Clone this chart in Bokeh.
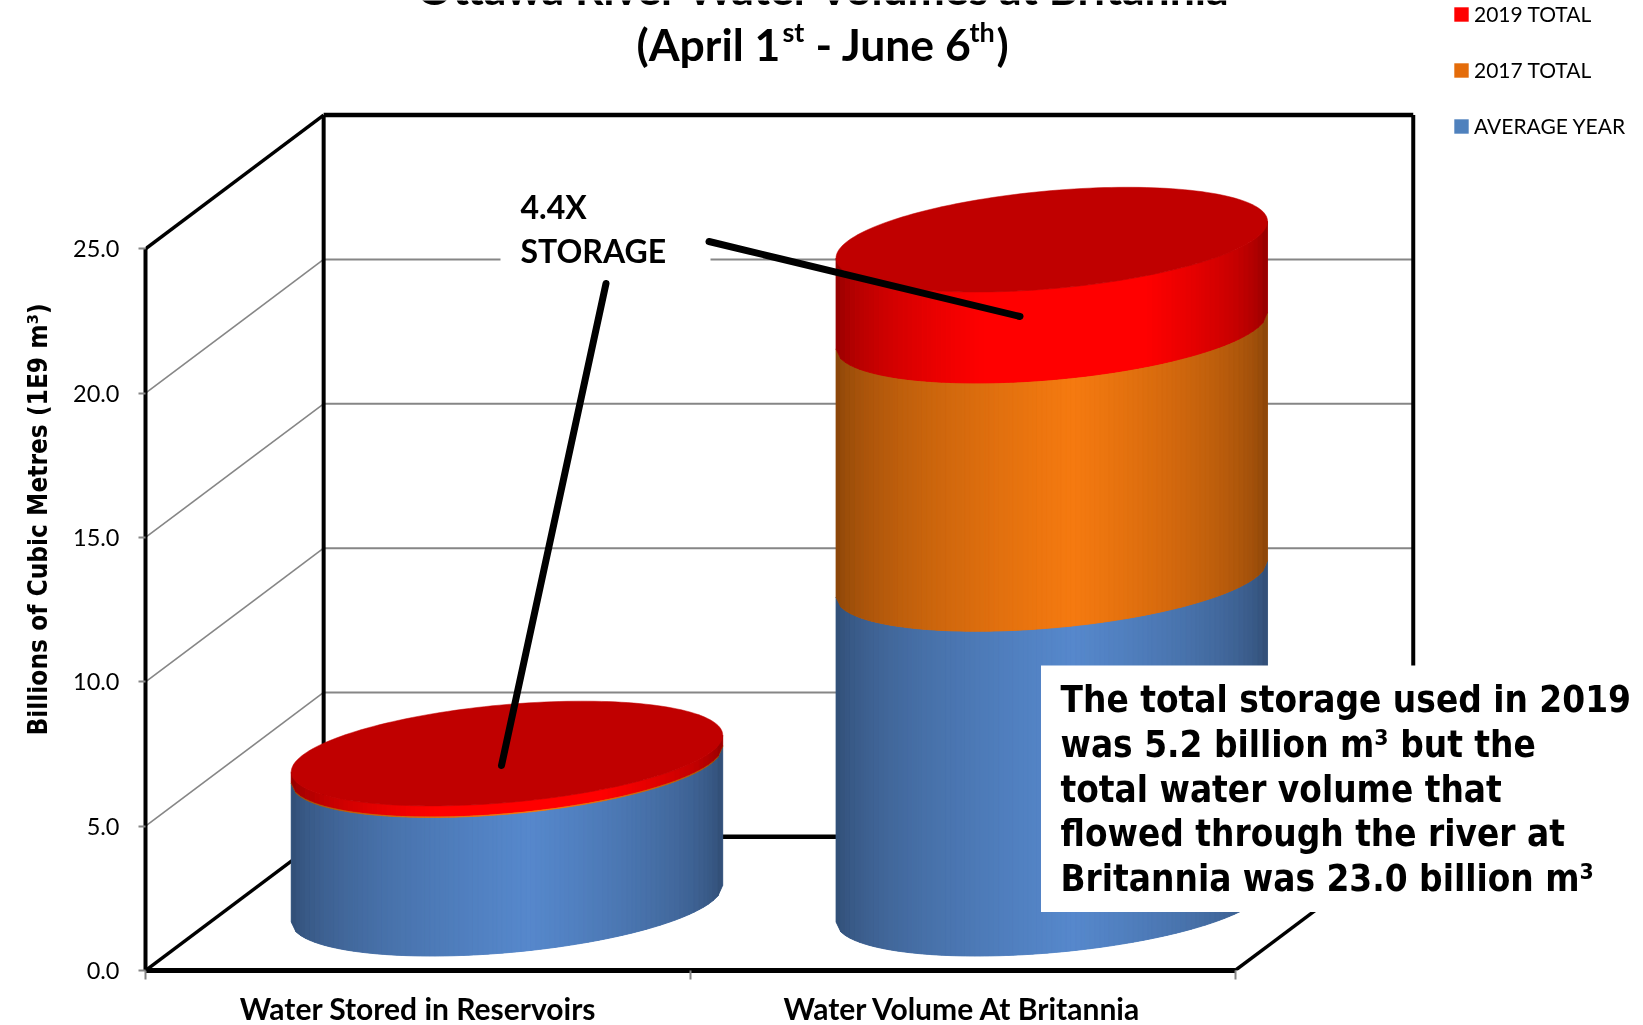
from bokeh.plotting import figure
from bokeh.models import (Range1d, Label, Legend, LegendItem, FixedTicker, PrintfTickFormatter, Title)
from bokeh.embed import file_html
from bokeh.resources import INLINE
import numpy as np

# ---- data (billions of cubic metres) ----
categories = ["Water Stored in Reservoirs", "Water Volume At Britannia"]
average_year = [4.8, 11.25]
total_2017 = [0.05, 8.6]
total_2019 = [0.35, 3.15]
y_ticks = [0, 5, 10, 15, 20, 25]
series_names = ["2019 TOTAL", "2017 TOTAL", "AVERAGE YEAR"]

title_line = "Ottawa River Water Volumes at Britannia"
y_title = "Billions of Cubic Metres (1E9 m³)"
note_lines = ["The total storage used in 2019", "was 5.2 billion m³ but the",
              "total water volume that", "flowed through the river at",
              "Britannia was 23.0 billion m³"]

# ---- page geometry ----
W, H = 1643, 1025
X0_PX, Y0_PX = 145, 970      # where value 0 / category edge 0 sit on the page
PX_X, PX_Y = 544.8, 28.87    # pixels per category, pixels per unit of value
DEPTH_X, DEPTH_Y = 0.327, 4.63   # oblique depth of the box, in data units
A, B, C = 0.396, 1.70, 0.635      # cylinder ellipse half width, half depth, tilt

def X(px): return (px - X0_PX) / PX_X
def Y(py): return (Y0_PX - py) / PX_Y

p = figure(width=W, height=H, output_backend="svg", toolbar_location=None,
           frame_width=W - X0_PX, frame_height=Y0_PX,
           x_range=Range1d(0, (W - X0_PX) / PX_X), y_range=Range1d(0, Y0_PX / PX_Y),
           min_border_left=X0_PX, min_border_right=0, min_border_top=0,
           min_border_bottom=H - Y0_PX, outline_line_color=None, background_fill_color="white")
p.styles = {"position": "fixed", "left": "0px", "top": "0px"}
p.grid.visible = False

# axes
ya = p.yaxis[0]
ya.ticker = FixedTicker(ticks=y_ticks)
ya.formatter = PrintfTickFormatter(format="%.1f")
ya.bounds = (0, 25)
ya.axis_line_color = "black"; ya.axis_line_width = 4
ya.major_tick_line_color = "#868686"; ya.major_tick_line_width = 2
ya.major_tick_in = 0; ya.major_tick_out = 7
ya.minor_tick_line_color = None
ya.major_label_text_font = "Lato"; ya.major_label_text_font_size = "23.5px"
ya.major_label_text_color = "black"; ya.major_label_standoff = 19

xa = p.xaxis[0]
xa.ticker = FixedTicker(ticks=[0.5, 1.5], minor_ticks=[0, 1, 2])
xa.major_label_overrides = {0.5: categories[0], 1.5: categories[1]}
xa.bounds = (0, 2)
xa.axis_line_color = "black"; xa.axis_line_width = 5
xa.major_tick_line_color = None
xa.minor_tick_line_color = "#868686"; xa.minor_tick_line_width = 2
xa.minor_tick_in = 0; xa.minor_tick_out = 9
xa.major_label_text_font = "Lato"; xa.major_label_text_font_style = "bold"
xa.major_label_text_font_size = "30px"; xa.major_label_text_color = "black"
xa.major_label_standoff = 10

# box: gridlines then frame
for v in y_ticks[:-1]:
    if v > 0:
        p.line([DEPTH_X, 2 + DEPTH_X], [v + DEPTH_Y, v + DEPTH_Y], line_color="#868686", line_width=2)
        p.line([0, DEPTH_X], [v, v + DEPTH_Y], line_color="#868686", line_width=1.6)
top = y_ticks[-1]
p.line([DEPTH_X, DEPTH_X], [DEPTH_Y, top + DEPTH_Y], line_color="black", line_width=4)
p.line([2 + DEPTH_X, 2 + DEPTH_X], [DEPTH_Y, top + DEPTH_Y], line_color="black", line_width=4)
p.line([DEPTH_X, 2 + DEPTH_X], [top + DEPTH_Y] * 2, line_color="black", line_width=4.5)
p.line([DEPTH_X, 2 + DEPTH_X], [DEPTH_Y] * 2, line_color="black", line_width=4.5)
p.line([0, DEPTH_X], [top, top + DEPTH_Y], line_color="black", line_width=3.5)
p.line([0, DEPTH_X], [0, DEPTH_Y], line_color="black", line_width=3.5)
p.line([2, 2 + DEPTH_X], [0, DEPTH_Y], line_color="black", line_width=3.5)

# cylinders
def hexc(c):
    return "#%02x%02x%02x" % tuple(int(round(min(255, max(0, k)))) for k in c)

def shade(bright, v, floor, gain=1.0):
    peak = 0.55
    w = v / peak if v < peak else (1 - v) / (1 - peak)
    f = min(1.0, (floor + (1 - floor) * w ** 0.5) * gain)
    return hexc([k * f for k in bright])

U = np.linspace(-1, 1, 91)
def rim(cx, cy):
    return cx + A * U, cy + C * U - B * np.sqrt(1 - U ** 2)

segments = [(average_year, "#4f81bd", (86, 136, 204), 0.54, 1.0),
            (total_2017, "#e46c0a", (245, 122, 16), 0.53, 1.0),
            (total_2019, "#ff0000", (255, 0, 0), 0.48, 1.12)]
legend_r = {}
base = [0.0, 0.0]
for vals, solid, bright, floor, gain in segments:
    sx, sy, xs, ys, cols = [], [], [], [], []
    for i in range(2):
        cx = i + 0.5 + DEPTH_X / 2
        y0 = base[i] + DEPTH_Y / 2
        y1 = y0 + vals[i]
        xb, yb = rim(cx, y0)
        xt, yt = rim(cx, y1)
        sx.append(list(xb) + list(xt[::-1])); sy.append(list(yb) + list(yt[::-1]))
        for k in range(len(U) - 1):
            xs.append([xb[k], xb[k + 1], xb[k + 1], xb[k]])
            ys.append([yb[k], yb[k + 1], yt[k + 1], yt[k]])
            cols.append(shade(bright, (k + 0.5) / (len(U) - 1), floor, gain))
    sil = p.patches(sx, sy, fill_color=solid, line_color=None)
    p.patches(xs, ys, fill_color=cols, line_color=cols, line_width=0.8)
    legend_r[solid] = sil
    base = [base[i] + vals[i] for i in range(2)]

T = np.linspace(0, 2 * np.pi, 181)
for i in range(2):
    cx = i + 0.5 + DEPTH_X / 2
    cy = base[i] + DEPTH_Y / 2
    p.patch(cx + A * np.cos(T), cy + C * np.cos(T) + B * np.sin(T),
            fill_color="#c00000", line_color="#c00000", line_width=0.5)

# white panels of the annotations
p.quad(left=[X(500), X(1040.5)], right=[X(710), X(1643)],
       bottom=[Y(278), Y(911.6)], top=[Y(185), Y(665)],
       fill_color="white", line_color=None)

# callout lines
p.line([X(708.5), X(1019.5)], [Y(241), Y(316)], line_color="black", line_width=7, line_cap="round")
p.line([X(605.5), X(501)], [Y(283), Y(765)], line_color="black", line_width=7, line_cap="round")

def label(x, y, text, font="Lato", size="30px", style="bold", align="left", baseline="alphabetic"):
    p.add_layout(Label(x=X(x), y=Y(y), text=text, text_font=font, text_font_size=size,
                       text_font_style=style, text_align=align, text_baseline=baseline,
                       text_color="black"))

label(520, 205.5, "4.4X", size="32px")
label(520, 249.5, "STORAGE", size="32px")

# title
label(824, -13, title_line, size="44.5px", align="center")
label(636, 43, "(April 1", size="44.5px")
label(782, 31, "st", size="27px")
label(815, 43, "- June 6", size="44.5px")
label(969, 31, "th", size="27px")
label(996, 43, ")", size="44.5px")

# y title
p.add_layout(Title(text=y_title, align="left", offset=235, standoff=36,
                   text_font="DejaVu Sans Condensed", text_font_size="26px",
                   text_font_style="bold", text_color="black"), "left")

# note
for line, base_y in zip(note_lines, [698.5, 743.5, 788.5, 833, 877.5]):
    label(1060, base_y, line, font="DejaVu Sans Condensed", size="36.6px")

# legend
legend = Legend(items=[LegendItem(label=series_names[0], renderers=[legend_r["#ff0000"]]),
                       LegendItem(label=series_names[1], renderers=[legend_r["#e46c0a"]]),
                       LegendItem(label=series_names[2], renderers=[legend_r["#4f81bd"]])],
                location=(1307, 832), orientation="vertical", margin=0, padding=0,
                spacing=31, glyph_width=18, glyph_height=18, label_standoff=4,
                border_line_color=None, background_fill_alpha=0,
                label_text_font="Lato", label_text_font_size="21px", label_text_color="black")
p.add_layout(legend)

open("out.html", "w").write(file_html(p, INLINE))
